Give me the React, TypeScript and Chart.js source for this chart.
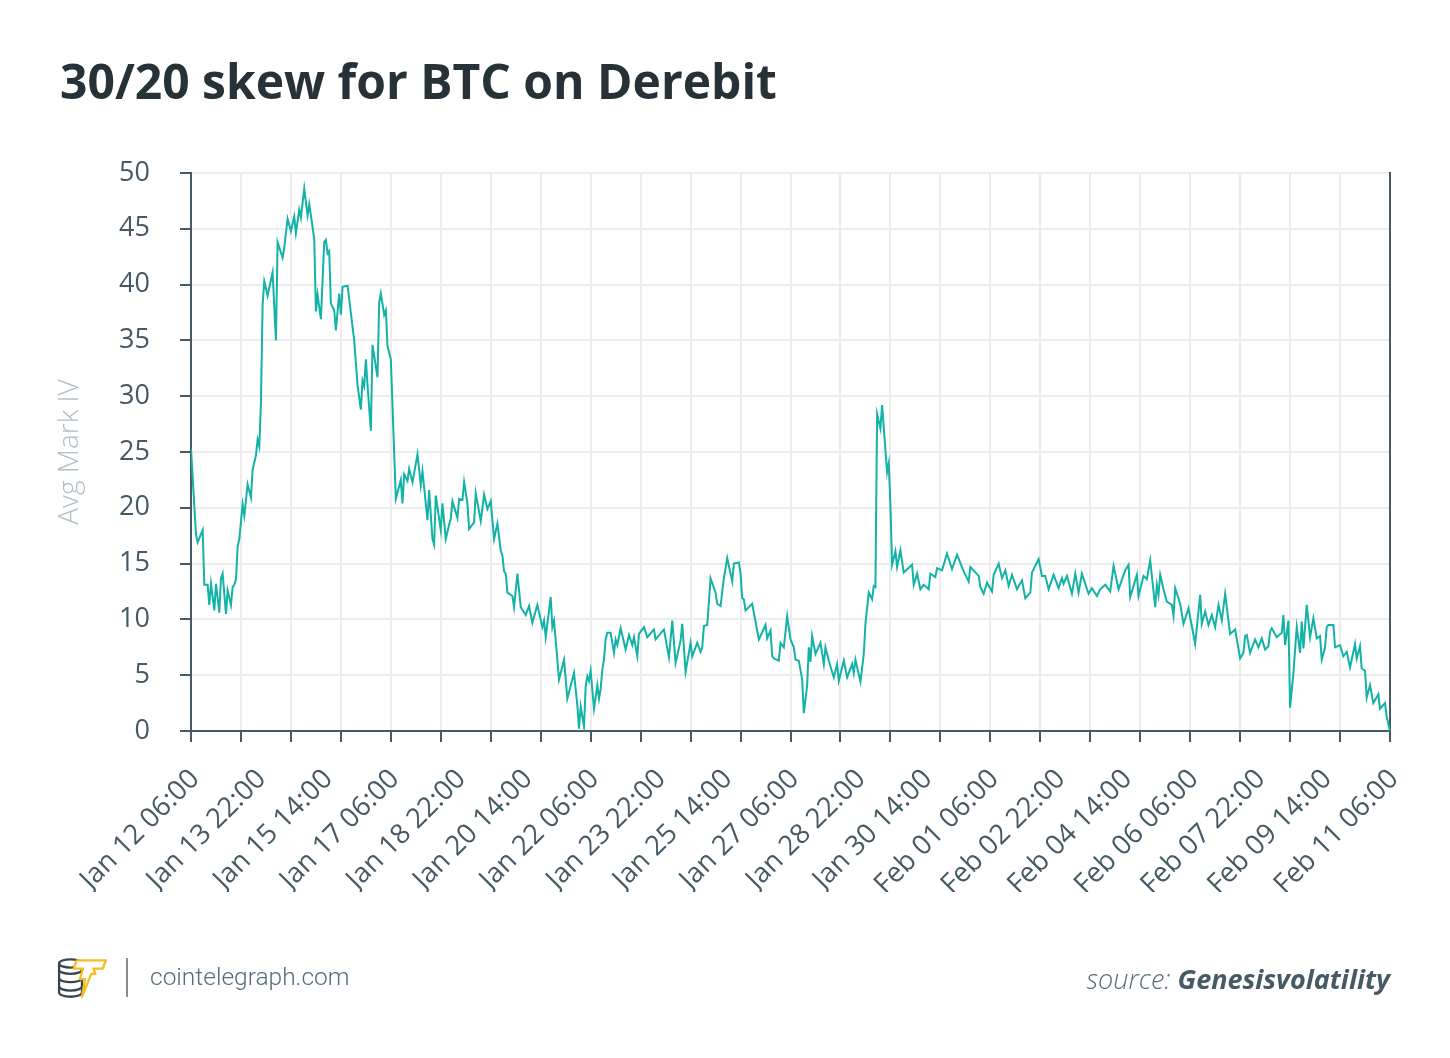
import React, { useEffect, useRef } from "react";
import { Chart, registerables } from "chart.js";

Chart.register(...registerables);

// hours elapsed since Jan 12 06:00
const hours = [
  0, 3, 4, 7, 8, 10, 11, 12, 14, 15, 17, 18, 19, 21, 22, 24, 25, 26, 27, 28, 29, 31, 32, 34, 36, 37, 39, 40, 41, 42,
  43, 44, 46, 49, 51, 52, 55, 56, 58, 60, 62, 63, 65, 66, 68, 70, 71, 72, 74, 75, 76, 78, 80, 81, 82, 83, 84, 86, 87, 89,
  90, 91, 94, 98, 100, 102, 103, 104, 105, 106, 108, 109, 112, 113, 114, 116, 117, 118, 120,
  123, 126, 127, 128, 130, 131, 133, 136, 138, 139, 142, 143, 145, 146, 147, 150, 151, 153, 155, 156, 157, 160, 161, 163, 164,
  166, 167, 170, 171, 174, 176, 178, 180, 182, 184, 186, 187, 188, 189, 190, 193, 194, 196, 198, 201, 203, 205, 208, 211, 212,
  213, 216, 217, 218, 221, 224, 226, 230, 232, 233, 234, 236, 237, 238, 239, 240, 242,
  244, 245, 246, 247, 248, 249, 250, 252, 254, 255, 256, 258, 261, 263, 265, 266, 268, 269, 272, 274, 278, 279, 284, 287, 289,
  291, 294, 295, 297, 300, 301, 304, 306, 307, 308, 310, 312, 315, 316, 318, 320, 322, 325, 326, 329, 330, 331, 332, 333, 337,
  341, 345, 346, 348, 349, 350, 353, 354, 356, 358, 360, 362, 363,
  365, 367, 368, 370, 371, 372, 373, 375, 378, 380, 381, 383, 386, 388, 389, 392, 394, 397, 398, 399, 402, 404, 405, 407, 409,
  410, 411, 412, 414, 415, 418, 419, 420, 421, 423, 424, 426, 428, 433, 434, 436, 438, 440, 443, 444, 447, 448, 451, 454, 457,
  460, 464, 467, 468, 473, 474, 476, 478, 481, 482,
  485, 487, 489, 491, 493, 496, 499, 501, 504, 505, 509, 511, 513, 515, 518, 521, 523, 524, 526, 529, 531, 533, 535, 539, 541,
  544, 546, 549, 552, 554, 557, 561, 563, 564, 568, 569, 572, 574, 576, 579, 580, 581, 582, 584, 586, 589, 590, 591, 594, 596,
  599, 603,
  606, 607, 609, 611, 613, 615, 617, 619, 621, 624, 627, 630, 632, 633, 634, 636, 639, 641, 643, 645, 647, 648, 649, 652, 655,
  656, 657, 659, 660, 662, 664, 666, 667, 668, 670, 672, 674, 676, 678, 679, 681, 682, 683, 686, 687, 690, 692, 694, 696, 699,
  700, 702, 703, 705, 706, 708, 710, 713, 714, 717, 718, 720,
];

// 30/20 skew, Avg Mark IV
const skew = [
  25.3, 17.6, 16.9, 18.0, 13.1, 13.1, 11.3, 13.2, 10.8, 13.2, 10.6, 13.7, 14.1, 10.5, 12.6, 11.3, 12.9, 13.1, 13.6, 16.5, 17.2, 20.3, 19.3, 22.1, 20.9, 23.4, 24.7, 26.1, 25.5, 29.4,
  38.2, 40.3, 39.0, 41.1, 35.0, 43.8, 42.4, 43.3, 45.9, 44.8, 46.1, 44.6, 46.7, 46.0, 48.6, 46.2, 47.2, 46.2, 44.1, 37.6, 39.1, 36.9, 43.8, 44.0, 42.8, 43.0, 38.3, 37.7, 35.9, 39.2,
  37.3, 39.8, 39.9, 35.0, 31.0, 28.8, 31.4, 30.9, 33.3, 31.0, 26.9, 34.6, 31.7, 38.4, 39.2, 37.3, 37.7, 34.5, 33.3,
  20.8, 22.5, 20.4, 23.0, 22.4, 23.5, 22.3, 24.8, 22.0, 23.3, 18.9, 21.6, 17.2, 16.7, 21.1, 18.0, 20.4, 17.2, 18.5, 19.0, 20.6, 19.1, 20.8, 20.7, 22.3,
  20.4, 18.1, 18.7, 21.3, 18.8, 21.2, 19.9, 20.6, 17.2, 18.6, 16.2, 15.7, 14.3, 14.1, 12.4, 12.1, 11.1, 14.1, 11.1, 10.4, 11.2, 9.7, 11.3, 9.3, 9.9,
  8.4, 12.0, 9.3, 9.9, 4.6, 6.4, 2.9, 5.2, 2.3, 0.2, 2.2, 0.4, 4.0, 4.9, 4.5, 5.4, 2.0,
  4.1, 2.9, 3.8, 5.5, 6.4, 8.2, 8.8, 8.8, 7.0, 8.2, 7.7, 9.2, 7.3, 8.6, 7.7, 8.4, 6.7, 8.7, 9.3, 8.4, 9.1, 8.2, 9.1, 6.6, 9.9,
  6.1, 8.1, 9.6, 5.3, 7.9, 6.7, 7.9, 7.1, 7.5, 9.4, 9.5, 13.7, 12.4, 11.4, 11.2, 13.7, 15.5, 13.4, 15.0, 15.1, 14.1, 11.9, 11.8, 10.8, 11.4,
  8.2, 9.5, 8.3, 9.0, 6.7, 6.5, 6.3, 7.9, 7.5, 10.3, 8.2, 7.5, 6.4,
  6.3, 4.6, 1.6, 4.1, 7.5, 6.2, 8.5, 6.9, 7.9, 6.0, 7.5, 6.3, 4.8, 6.0, 4.5, 6.3, 4.8, 6.0, 5.2, 6.4, 4.4, 6.9, 9.6, 12.4, 11.8,
  13.0, 12.9, 28.4, 27.1, 29.2, 23.2, 24.0, 20.3, 14.9, 16.1, 14.7, 16.2, 14.2, 14.9, 13.1, 14.1, 12.7, 13.1, 12.7, 14.1, 13.8, 14.6, 14.4, 15.9, 14.5,
  15.8, 14.3, 13.4, 14.7, 13.9, 12.9, 12.3, 13.3, 12.5, 14.0,
  15.0, 13.7, 14.4, 13.0, 14.0, 12.7, 13.5, 11.9, 12.4, 14.2, 15.4, 13.9, 13.9, 12.7, 14.0, 12.8, 13.7, 13.2, 13.9, 12.3, 14.1, 12.4, 14.1, 12.3, 12.8,
  12.1, 12.7, 13.1, 12.5, 14.8, 12.7, 14.4, 14.9, 12.0, 14.0, 12.1, 13.9, 13.6, 15.3, 11.1, 13.1, 12.2, 14.0, 12.7, 11.6, 11.3, 10.3, 12.8, 11.4, 9.6,
  11.0, 7.8,
  12.2, 9.6, 10.7, 9.5, 10.4, 9.3, 11.3, 9.9, 12.3, 8.7, 9.1, 6.5, 7.0, 8.5, 8.6, 7.0, 8.2, 7.5, 8.3, 7.3, 7.6, 8.9, 9.2, 8.4, 8.8,
  10.4, 7.7, 9.9, 2.1, 5.2, 9.3, 7.0, 9.8, 7.4, 11.3, 8.4, 10.1, 8.3, 8.5, 6.4, 7.5, 9.3, 9.5, 9.5, 7.5, 7.7, 6.7, 7.1, 5.7, 7.8,
  6.5, 7.6, 5.6, 5.4, 3.0, 4.1, 2.5, 3.3, 2.0, 2.5, 1.3, 0,
];

const xTickLabels = [
  "Jan 12 06:00", "Jan 13 22:00", "Jan 15 14:00", "Jan 17 06:00", "Jan 18 22:00", "Jan 20 14:00",
  "Jan 22 06:00", "Jan 23 22:00", "Jan 25 14:00", "Jan 27 06:00", "Jan 28 22:00", "Jan 30 14:00",
  "Feb 01 06:00", "Feb 02 22:00", "Feb 04 14:00", "Feb 06 06:00", "Feb 07 22:00", "Feb 09 14:00",
  "Feb 11 06:00",
];

const TITLE = "30/20 skew for BTC on Derebit";
const Y_TITLE = "Avg Mark IV";
const SITE = "cointelegraph.com";
const SOURCE_LABEL = "source:";
const SOURCE_NAME = "Genesisvolatility";

const AXIS = "#455a64";
const GRID = "#ececec";
const LINE = "#13b2a6";

function Logo() {
  return (
    <svg width="52" height="46" viewBox="0 0 50 44" style={{ position: "absolute", left: 57, top: 954 }}>
      <g fill="#fff" stroke="#37474f" strokeWidth="2.2">
        <path d="M2 31 v6 a11 4 0 0 0 22 0 v-6" />
        <path d="M2 23 v8 a11 4 0 0 0 22 0 v-8" />
        <path d="M2 15 v8 a11 4 0 0 0 22 0 v-8" />
        <path d="M2 9 v6 a11 4 0 0 0 22 0 v-6" />
        <ellipse cx="13" cy="9" rx="11" ry="4" />
      </g>
      <path
        d="M19 6 H47 L44 14 H35 L37 19 H33 L24 41 L27 24 H22 L25 14 H16 Z"
        fill="#fff"
        stroke="#f5bd1f"
        strokeWidth="2.2"
        strokeLinejoin="round"
      />
    </svg>
  );
}

export default function App() {
  const ref = useRef<HTMLCanvasElement | null>(null);

  useEffect(() => {
    const canvas = ref.current;
    if (!canvas) return;
    const points = hours.map((h, i) => ({ x: h, y: skew[i] }));
    const chart = new Chart(canvas, {
      type: "line",
      data: {
        datasets: [
          {
            data: points,
            borderColor: LINE,
            borderWidth: 2,
            pointRadius: 0,
            tension: 0,
            fill: false,
            xAxisID: "x",
            yAxisID: "y",
          },
        ],
      },
      options: {
        responsive: false,
        animation: false,
        devicePixelRatio: 1,
        layout: { padding: { top: 173, right: 60, left: 45, bottom: 166 } },
        plugins: {
          legend: { display: false },
          tooltip: { enabled: false },
          title: { display: false },
        },
        scales: {
          x: {
            type: "linear",
            position: "bottom",
            weight: 0,
            min: 0,
            max: 720,
            ticks: { display: false, stepSize: 30, autoSkip: false },
            grid: { color: GRID, lineWidth: 2, tickColor: AXIS, tickLength: 11, tickWidth: 2 },
            border: { color: AXIS, width: 2 },
            afterFit: (s: any) => {
              s.height = 11;
            },
          },
          x2: {
            type: "linear",
            position: "bottom",
            weight: 1,
            display: true,
            min: 0,
            max: 720,
            ticks: {
              stepSize: 40,
              autoSkip: false,
              maxRotation: 45,
              minRotation: 45,
              labelOffset: 4,
              padding: 21,
              color: AXIS,
              font: { family: "Open Sans", size: 27.5 },
              callback: (v: any) => xTickLabels[Math.round(Number(v) / 40)] ?? "",
            },
            grid: { display: false, drawTicks: false },
            border: { display: false },
            afterFit: (s: any) => {
              s.height = 150;
            },
          },
          y: {
            type: "linear",
            position: "left",
            min: 0,
            max: 50,
            ticks: {
              stepSize: 5,
              color: AXIS,
              padding: 30,
              font: { family: "Open Sans", size: 27 },
            },
            grid: { color: GRID, lineWidth: 2, tickColor: AXIS, tickLength: 11, tickWidth: 2 },
            border: { color: AXIS, width: 2 },
            title: {
              display: true,
              text: Y_TITLE,
              color: "#b0bec5",
              font: { family: "Open Sans", size: 28, weight: "300" as any },
              padding: { top: 8, bottom: 0 },
            },
            afterFit: (s: any) => {
              s.width = 146;
            },
          },
          y2: {
            type: "linear",
            position: "right",
            display: true,
            min: 0,
            max: 50,
            ticks: { display: false },
            grid: { drawOnChartArea: false, drawTicks: false },
            border: { color: AXIS, width: 2 },
            afterFit: (s: any) => {
              s.width = 0;
            },
          },
        },
      },
    });
    return () => chart.destroy();
  }, []);

  return (
    <div
      style={{
        position: "absolute",
        left: 0,
        top: 0,
        width: 1450,
        height: 1058,
        background: "#fff",
        overflow: "hidden",
      }}
    >
      <canvas
        ref={ref}
        width={1450}
        height={1058}
        style={{ position: "absolute", left: 0, top: 0, width: 1450, height: 1058 }}
      />
      <div
        style={{
          position: "absolute",
          left: 60,
          top: 57,
          fontFamily: "'Open Sans', sans-serif",
          fontWeight: 700,
          fontSize: 48,
          lineHeight: "48px",
          color: "#263238",
          whiteSpace: "nowrap",
        }}
      >
        {TITLE}
      </div>
      <Logo />
      <div style={{ position: "absolute", left: 126, top: 958, width: 2, height: 39, background: "#8c8c8c" }} />
      <div
        style={{
          position: "absolute",
          left: 150,
          top: 965,
          fontFamily: "Roboto, sans-serif",
          fontWeight: 300,
          fontSize: 24.5,
          lineHeight: "24px",
          color: "#546e7a",
          whiteSpace: "nowrap",
        }}
      >
        {SITE}
      </div>
      <div
        style={{
          position: "absolute",
          right: 60,
          top: 965,
          fontFamily: "'Open Sans', sans-serif",
          fontStyle: "italic",
          fontSize: 27,
          lineHeight: "27px",
          whiteSpace: "nowrap",
        }}
      >
        <span style={{ fontWeight: 300, color: "#546e7a" }}>{SOURCE_LABEL} </span>
        <span style={{ fontWeight: 700, color: "#455a64" }}>{SOURCE_NAME}</span>
      </div>
    </div>
  );
}
